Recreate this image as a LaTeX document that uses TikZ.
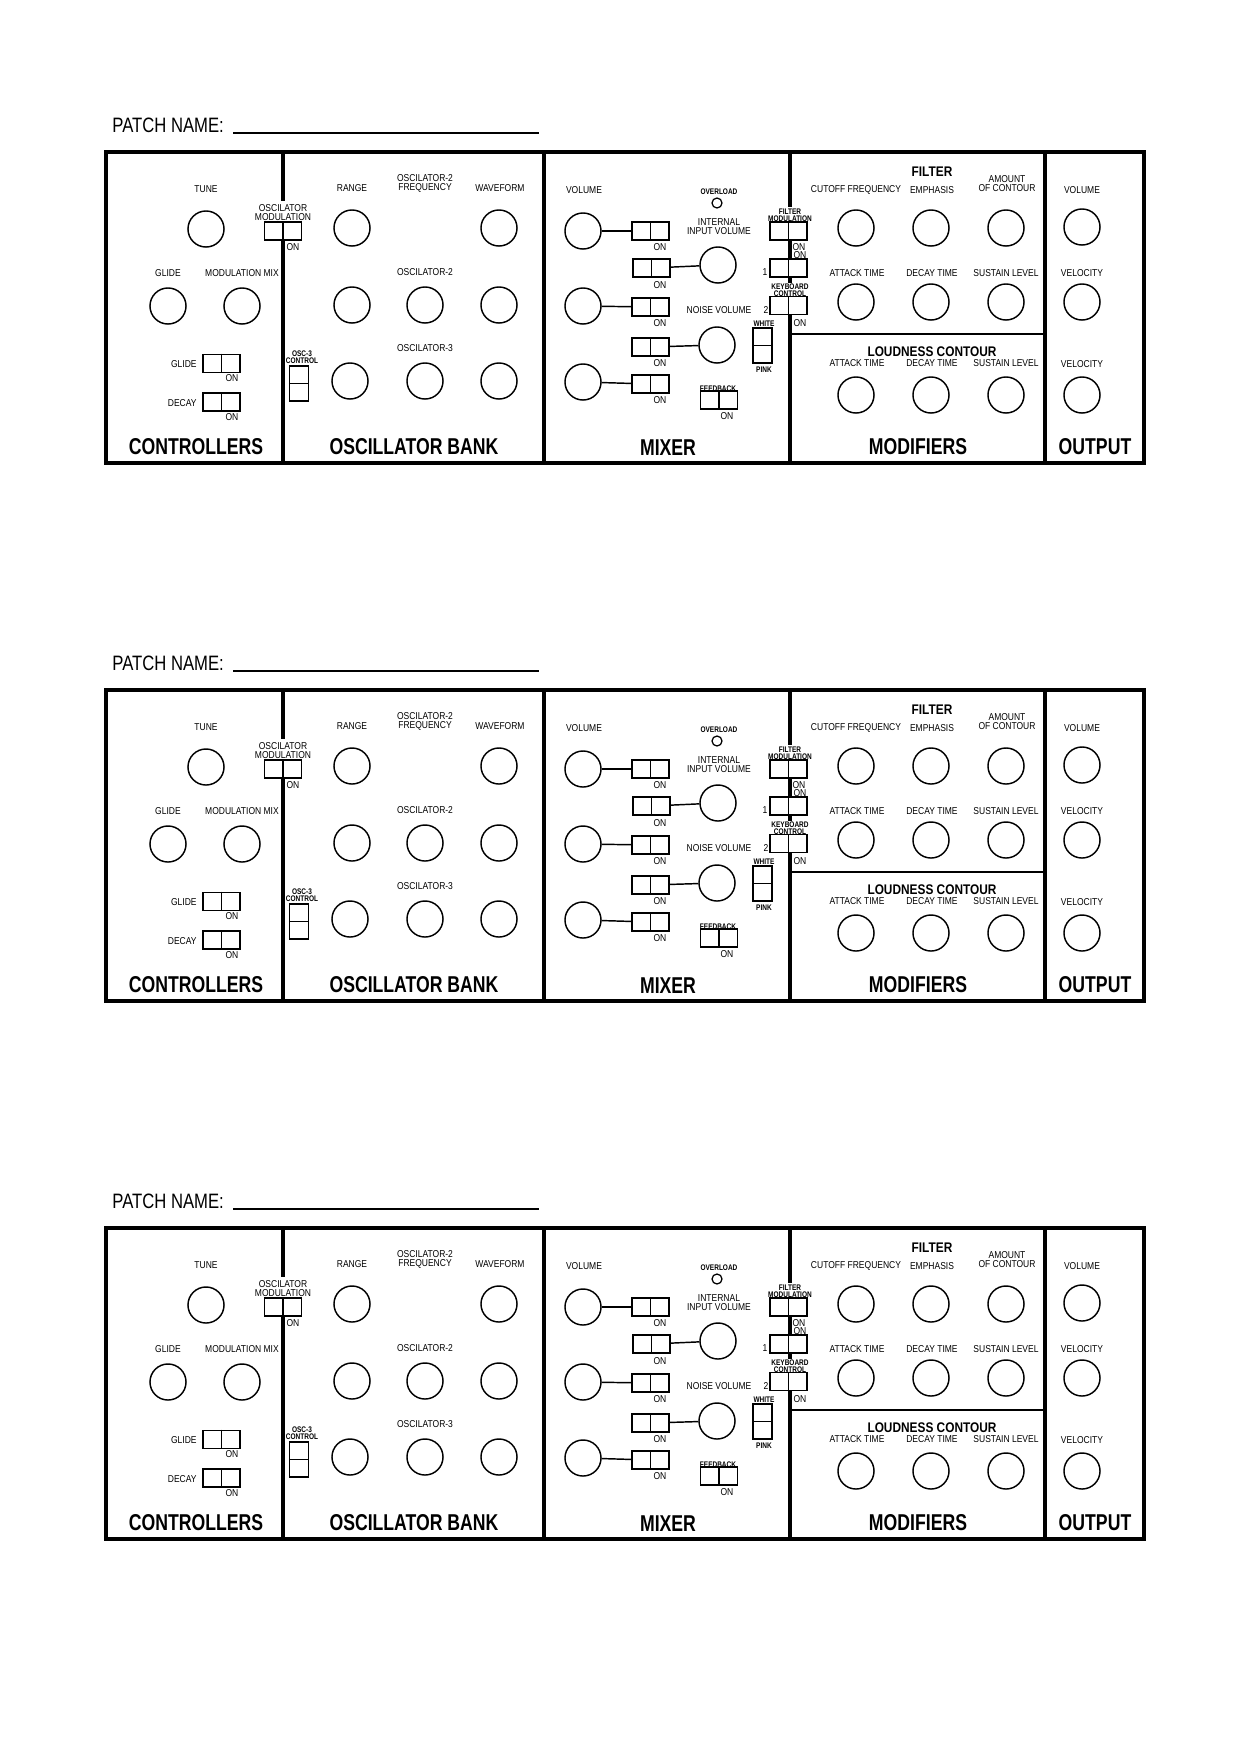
\documentclass[tikz,border=0pt]{standalone}
\usepackage{fontspec}
\setmainfont{Liberation Sans}
\newfontfamily\lblfont{Liberation Sans}[FakeStretch=0.85]
\newfontfamily\hdfont{Liberation Sans}[FakeStretch=0.77]
\newfontfamily\tnfont{Liberation Sans}[FakeStretch=0.8]
\newfontfamily\pnfont{Liberation Sans}[FakeStretch=0.8]
\tikzset{
  knob/.style={circle,draw,line width=0.7pt,minimum size=17.3pt,inner sep=0pt},
  lbl/.style={font=\lblfont\fontsize{4.8}{4.4}\selectfont,inner sep=0pt,align=center},
  tlbl/.style={font=\tnfont\bfseries\fontsize{3.9}{3.4}\selectfont,inner sep=0.6pt,align=center,fill=white},
  head/.style={font=\hdfont\bfseries\fontsize{11}{12}\selectfont,inner sep=0pt},
  subhead/.style={font=\lblfont\bfseries\fontsize{6.7}{7}\selectfont,inner sep=0pt},
  patch/.style={font=\pnfont\fontsize{10}{12}\selectfont,inner sep=0pt},
  hswbox/.style={draw,fill=white,line width=0.7pt,minimum width=17.8pt,minimum height=8.8pt,inner sep=0pt},
  vswbox/.style={draw,fill=white,line width=0.7pt,minimum width=9pt,minimum height=17pt,inner sep=0pt},
  swline/.style={line width=0.7pt},
  frame/.style={line width=1.5pt},
  conn/.style={line width=0.7pt},
}
\newcommand\mkhsw[2]{\node[hswbox] (#1) at (#2) {}; \draw[swline] (#1.north) -- (#1.south);}
\newcommand\mkvsw[2]{\node[vswbox] (#1) at (#2) {}; \draw[swline] (#1.west) -- (#1.east);}
\newcommand\mypanel{%
  % patch name
  \node[patch,anchor=base west] (pn) at (112,132) {PATCH NAME:};
  \coordinate (ula) at (233,133); \coordinate (ulb) at (539,133);
  \draw[line width=0.6pt] (ula) -- (ulb);
  % frame
  \draw[frame] (106,152) rectangle (1144,463);
  \draw[frame] (283,152) -- (283,463);
  \draw[frame] (544,152) -- (544,463);
  \draw[frame] (790,152) -- (790,463);
  \draw[frame] (1045,152) -- (1045,463);
  \draw[line width=1pt] (790,334) -- (1045,334);
  % controllers
  \node[lbl] (tuneL) at (206,189) {TUNE};
  \node[knob] (tune) at (206,229) {};
  \node[lbl] (glideL) at (168,273) {GLIDE};
  \node[knob] (glide) at (168,306) {};
  \node[lbl] (mmixL) at (242,273) {MODULATION MIX};
  \node[knob] (mmix) at (242,306) {};
  \mkhsw{gsw}{221.5,363.5}
  \node[lbl,anchor=east] (gswL) at (197,364.5) {GLIDE};
  \node[lbl] (gswOn) at (232,378.5) {ON};
  \mkhsw{dsw}{221.5,402}
  \node[lbl,anchor=east] (dswL) at (197,403.5) {DECAY};
  \node[lbl] (dswOn) at (232,417) {ON};
  \node[lbl,fill=white,inner sep=1.5pt] (omL) at (283,212.5) {OSCILATOR\\MODULATION};
  \mkhsw{omsw}{283,231}
  \node[lbl] (omOn) at (293,247) {ON};
  \node[head] (hC) at (196,447) {CONTROLLERS};
  % oscillator bank
  \node[lbl] (rangeL) at (352,188) {RANGE};
  \node[lbl] (o2fL) at (425,183.5) {OSCILATOR-2\\FREQUENCY};
  \node[lbl] (wfL) at (500,188) {WAVEFORM};
  \node[knob] (ob11) at (352,228) {};
  \node[knob] (ob13) at (499,228) {};
  \node[lbl] (o2L) at (425,272) {OSCILATOR-2};
  \node[knob] (ob21) at (352,305) {};
  \node[knob] (ob22) at (425,305) {};
  \node[knob] (ob23) at (499,305) {};
  \node[lbl] (o3L) at (425,348) {OSCILATOR-3};
  \node[knob] (ob31) at (350,381) {};
  \node[knob] (ob32) at (425,381) {};
  \node[knob] (ob33) at (499,381) {};
  \node[tlbl] (o3cL) at (302,357.5) {OSC-3\\CONTROL};
  \mkvsw{o3sw}{299,383.5}
  \node[head] (hO) at (414,447) {OSCILLATOR BANK};
  % mixer
  \node[lbl] (volL) at (584,190) {VOLUME};
  \node[knob] (mk1) at (583,231) {};
  \node[knob] (mk2) at (583,306) {};
  \node[knob] (mk3) at (583,382) {};
  \mkhsw{msw1}{650.5,231}
  \mkhsw{msw2}{651.5,268}
  \mkhsw{msw3}{650.5,307}
  \mkhsw{msw4}{650.5,347}
  \mkhsw{msw5}{650.5,384}
  \node[lbl] (on1) at (660,247) {ON};
  \node[lbl] (on2) at (660,285) {ON};
  \node[lbl] (on3) at (660,323) {ON};
  \node[lbl] (on4) at (660,363) {ON};
  \node[lbl] (on5) at (660,400) {ON};
  \node[knob] (iik) at (718,265) {};
  \node[knob] (nvk) at (717,345) {};
  \draw[conn] (mk1) -- (msw1);
  \draw[conn] (mk2) -- (msw3);
  \draw[conn] (mk3) -- (msw5);
  \draw[conn] (msw2) -- (iik);
  \draw[conn] (msw4) -- (nvk);
  \node[tlbl] (olL) at (719,192) {OVERLOAD};
  \node[circle,draw,line width=0.6pt,minimum size=4.8pt,inner sep=0pt] (led) at (717,203) {};
  \node[lbl] (iivL) at (719,226.5) {INTERNAL\\INPUT VOLUME};
  \node[lbl] (nvL) at (719,310) {NOISE VOLUME};
  \mkvsw{wpsw}{762.5,345.5}
  \node[tlbl,fill=none] (whL) at (764,324) {WHITE};
  \node[tlbl,fill=none] (pkL) at (764,370) {PINK};
  \mkhsw{fbsw}{719,400}
  \node[tlbl,fill=none] (fbL) at (718,388.5) {FEEDBACK};
  \node[lbl] (fbOn) at (727,416) {ON};
  \node[tlbl] (fmL) at (790,215) {FILTER\\MODULATION};
  \mkhsw{fmsw}{788.5,231}
  \node[lbl] (fmOn) at (799,247) {ON};
  \mkhsw{kc1}{788.5,268}
  \node[lbl] (kc1On) at (800,255) {ON};
  \node[lbl] (kc1L) at (765,272) {1};
  \node[tlbl] (kcL) at (790,290.5) {KEYBOARD\\CONTROL};
  \mkhsw{kc2}{788.5,305.5}
  \node[lbl] (kc2L) at (766,310) {2};
  \node[lbl] (kc2On) at (800,323) {ON};
  \node[head] (hM) at (668,448) {MIXER};
  % modifiers
  \node[subhead] (filtH) at (932,172) {FILTER};
  \node[lbl] (cfL) at (856,190) {CUTOFF FREQUENCY};
  \node[lbl] (emL) at (932,190) {EMPHASIS};
  \node[lbl] (aocL) at (1007,183.5) {AMOUNT\\OF CONTOUR};
  \node[knob] (f11) at (856,228) {};
  \node[knob] (f12) at (931,228) {};
  \node[knob] (f13) at (1006,228) {};
  \node[lbl] (fatL) at (857,273) {ATTACK TIME};
  \node[lbl] (fdtL) at (932,273) {DECAY TIME};
  \node[lbl] (fslL) at (1006,273) {SUSTAIN LEVEL};
  \node[knob] (f21) at (856,302) {};
  \node[knob] (f22) at (931,302) {};
  \node[knob] (f23) at (1006,302) {};
  \node[subhead] (lcH) at (932,352) {LOUDNESS CONTOUR};
  \node[lbl] (latL) at (857,363) {ATTACK TIME};
  \node[lbl] (ldtL) at (932,363) {DECAY TIME};
  \node[lbl] (lslL) at (1006,363) {SUSTAIN LEVEL};
  \node[knob] (l1) at (856,395) {};
  \node[knob] (l2) at (931,395) {};
  \node[knob] (l3) at (1006,395) {};
  \node[head] (hMod) at (918,447) {MODIFIERS};
  % output
  \node[lbl] (ovL) at (1082,190) {VOLUME};
  \node[knob] (ok1) at (1082,227) {};
  \node[lbl] (ov1L) at (1082,273) {VELOCITY};
  \node[knob] (ok2) at (1082,302) {};
  \node[lbl] (ov2L) at (1082,364) {VELOCITY};
  \node[knob] (ok3) at (1082,395) {};
  \node[head] (hOut) at (1095,447) {OUTPUT};
}
\begin{document}
\begin{tikzpicture}[x=0.48pt,y=-0.48pt]
  \useasboundingbox[fill=white] (0,0) rectangle (1240,1754);
  \foreach \p in {0,1,2}{
    \begin{scope}[shift={(0,538*\p)},name prefix=p\p-]
      \mypanel
    \end{scope}
  }
\end{tikzpicture}
\end{document}
